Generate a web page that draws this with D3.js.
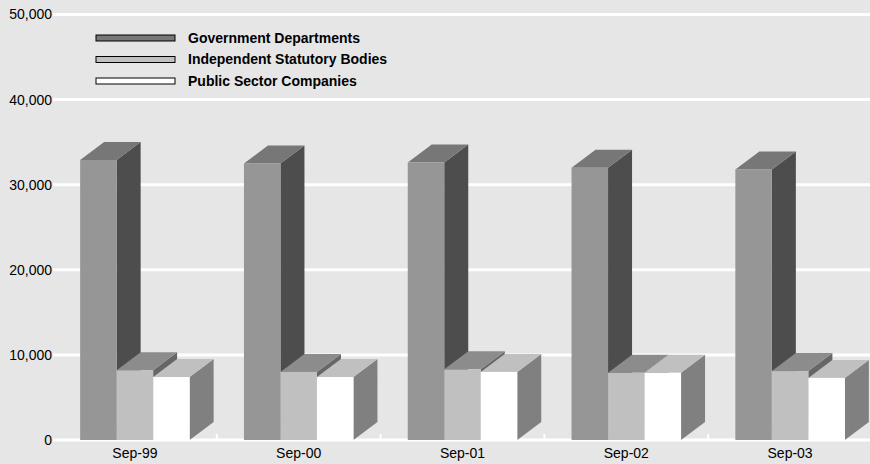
<!DOCTYPE html>
<html>
<head>
<meta charset="utf-8">
<script src="https://cdn.jsdelivr.net/npm/d3@7"></script>
<style>
  html, body { margin: 0; padding: 0; background: #e6e6e6; }
  svg { display: block; font-family: "Liberation Sans", Arial, sans-serif; }
</style>
</head>
<body>
<svg id="chart" width="870" height="464"></svg>
<script>
'use strict';

// Data
const categories = ['Sep-99', 'Sep-00', 'Sep-01', 'Sep-02', 'Sep-03'];
const seriesNames = ['Government Departments', 'Independent Statutory Bodies', 'Public Sector Companies'];
const govDepartments = [32900, 32500, 32600, 32000, 31800];
const statutoryBodies = [8200, 8000, 8300, 7900, 8100];
const sectorCompanies = [7400, 7400, 8000, 7900, 7300];
const yTicks = [0, 10000, 20000, 30000, 40000, 50000];

const series = [govDepartments, statutoryBodies, sectorCompanies];

// Face colours per series: front, top, side
const faces = [
  { front: '#969696', top: '#777777', side: '#4d4d4d', swatch: '#777777' },
  { front: '#c0c0c0', top: '#8c8c8c', side: '#666666', swatch: '#c0c0c0' },
  { front: '#ffffff', top: '#c0c0c0', side: '#808080', swatch: '#ffffff' }
];

const svg = d3.select('#chart');
const width = 870, height = 464;

const x = d3.scaleBand().domain(categories).range([53, 872]).padding(0);
const y = d3.scaleLinear().domain([0, 50000]).range([440, 14.5]);

const barW = 36.5;
const depthX = 24, depthY = 18;

// background
svg.append('rect').attr('width', width).attr('height', height).attr('fill', '#e6e6e6');

// gridlines
svg.append('g').selectAll('line').data(yTicks).join('line')
  .attr('x1', 53).attr('x2', width)
  .attr('y1', d => y(d)).attr('y2', d => y(d))
  .attr('stroke', '#ffffff').attr('stroke-width', 3);

// category separator ticks on the baseline
svg.append('g').selectAll('line').data(categories.slice(1)).join('line')
  .attr('x1', d => x(d)).attr('x2', d => x(d))
  .attr('y1', y(0)).attr('y2', y(0) - 6)
  .attr('stroke', '#ffffff').attr('stroke-width', 2);

// y axis labels
svg.append('g').selectAll('text').data(yTicks).join('text')
  .attr('x', 52).attr('y', d => y(d))
  .attr('dy', '0.35em')
  .attr('text-anchor', 'end')
  .attr('font-size', 14)
  .attr('fill', '#000')
  .text(d3.format(','));

// x axis labels
svg.append('g').selectAll('text').data(categories).join('text')
  .attr('x', d => x(d) + x.bandwidth() / 2).attr('y', 457.5)
  .attr('text-anchor', 'middle')
  .attr('font-size', 14)
  .attr('fill', '#000')
  .text(d => d);

// 3D bars
const pts = arr => arr.map(p => p.join(',')).join(' ');
const bars = svg.append('g');
categories.forEach((cat, i) => {
  const x0 = x(cat) + x.bandwidth() / 2 - barW * series.length / 2;
  series.forEach((vals, s) => {
    const l = x0 + s * barW, r = l + barW;
    const t = y(vals[i]), b = y(0);
    const g = bars.append('g');
    g.append('polygon')
      .attr('points', pts([[r, b], [r + depthX, b - depthY], [r + depthX, t - depthY], [r, t]]))
      .attr('fill', faces[s].side);
    g.append('polygon')
      .attr('points', pts([[l, t], [l + depthX, t - depthY], [r + depthX, t - depthY], [r, t]]))
      .attr('fill', faces[s].top);
    g.append('rect')
      .attr('x', l).attr('y', t)
      .attr('width', barW).attr('height', b - t)
      .attr('fill', faces[s].front);
  });
});

// legend
const legend = svg.append('g');
seriesNames.forEach((name, s) => {
  const cy = 38 + s * 21.5;
  legend.append('rect')
    .attr('x', 96).attr('y', cy - 3)
    .attr('width', 79).attr('height', 6)
    .attr('fill', faces[s].swatch)
    .attr('stroke', '#000').attr('stroke-width', 1);
  legend.append('text')
    .attr('x', 188).attr('y', cy)
    .attr('dy', '0.35em')
    .attr('font-size', 14).attr('font-weight', 'bold')
    .attr('fill', '#000')
    .text(name);
});
</script>
</body>
</html>
